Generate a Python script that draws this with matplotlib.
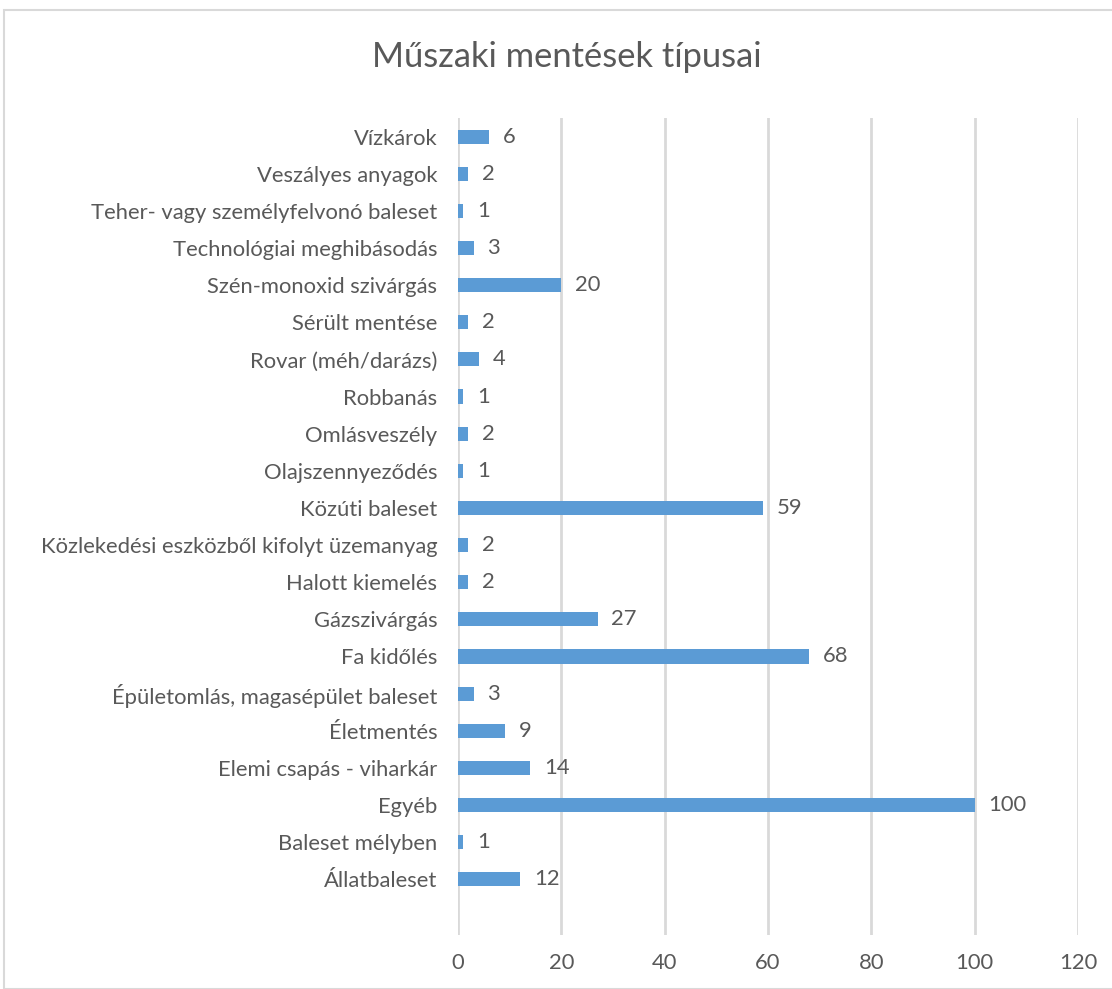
import matplotlib.pyplot as plt
from matplotlib.patches import Rectangle

categories = ["Vízkárok", "Veszályes anyagok", "Teher- vagy személyfelvonó baleset",
              "Technológiai meghibásodás", "Szén-monoxid szivárgás", "Sérült mentése",
              "Rovar (méh/darázs)", "Robbanás", "Omlásveszély", "Olajszennyeződés",
              "Közúti baleset", "Közlekedési eszközből kifolyt üzemanyag", "Halott kiemelés",
              "Gázszivárgás", "Fa kidőlés", "Épületomlás, magasépület baleset", "Életmentés",
              "Elemi csapás - viharkár", "Egyéb", "Baleset mélyben", "Állatbaleset"]
values = [6, 2, 1, 3, 20, 2, 4, 1, 2, 1, 59, 2, 2, 27, 68, 3, 9, 14, 100, 1, 12]
xticks = [0, 20, 40, 60, 80, 100, 120]

c_bar = "#5B9BD5"
c_text = "#595959"
c_grid = "#D9D9D9"

plt.rcParams['font.family'] = ['Lato', 'DejaVu Sans']

fig = plt.figure(figsize=(11.12, 9.89), dpi=100)
ax = fig.add_axes([0.4119, 0.0546, 0.5575, 0.8261])

pos = list(range(len(categories)))
ax.barh(pos, values, height=0.38, color=c_bar, zorder=3)
for p, v in zip(pos, values):
    ax.annotate(str(v), (v, p), xytext=(10, 0), textcoords="offset points",
                ha="left", va="center", fontsize=15.8, color=c_text)

ax.set_ylim(21.5, -0.5)
ax.set_xlim(0, 120)
ax.set_xticks(xticks)
ax.set_yticks(pos)
ax.set_yticklabels(categories)
ax.grid(axis="x", color=c_grid, linewidth=2, zorder=0)
for s in ax.spines.values():
    s.set_visible(False)
ax.tick_params(axis="both", length=0, labelsize=15.8, labelcolor=c_text)
ax.tick_params(axis="y", pad=15)
ax.tick_params(axis="x", pad=13)

fig.text(567 / 1112, 1 - 57 / 989, "Műszaki mentések típusai", ha="center", va="center",
         fontsize=24.8, color=c_text)

fig.patches.append(Rectangle((4 / 1112, 0), 1.2, 1 - 10 / 989, transform=fig.transFigure,
                             fill=False, edgecolor=c_grid, linewidth=1.5))

fig.savefig("out.png", dpi=100)
